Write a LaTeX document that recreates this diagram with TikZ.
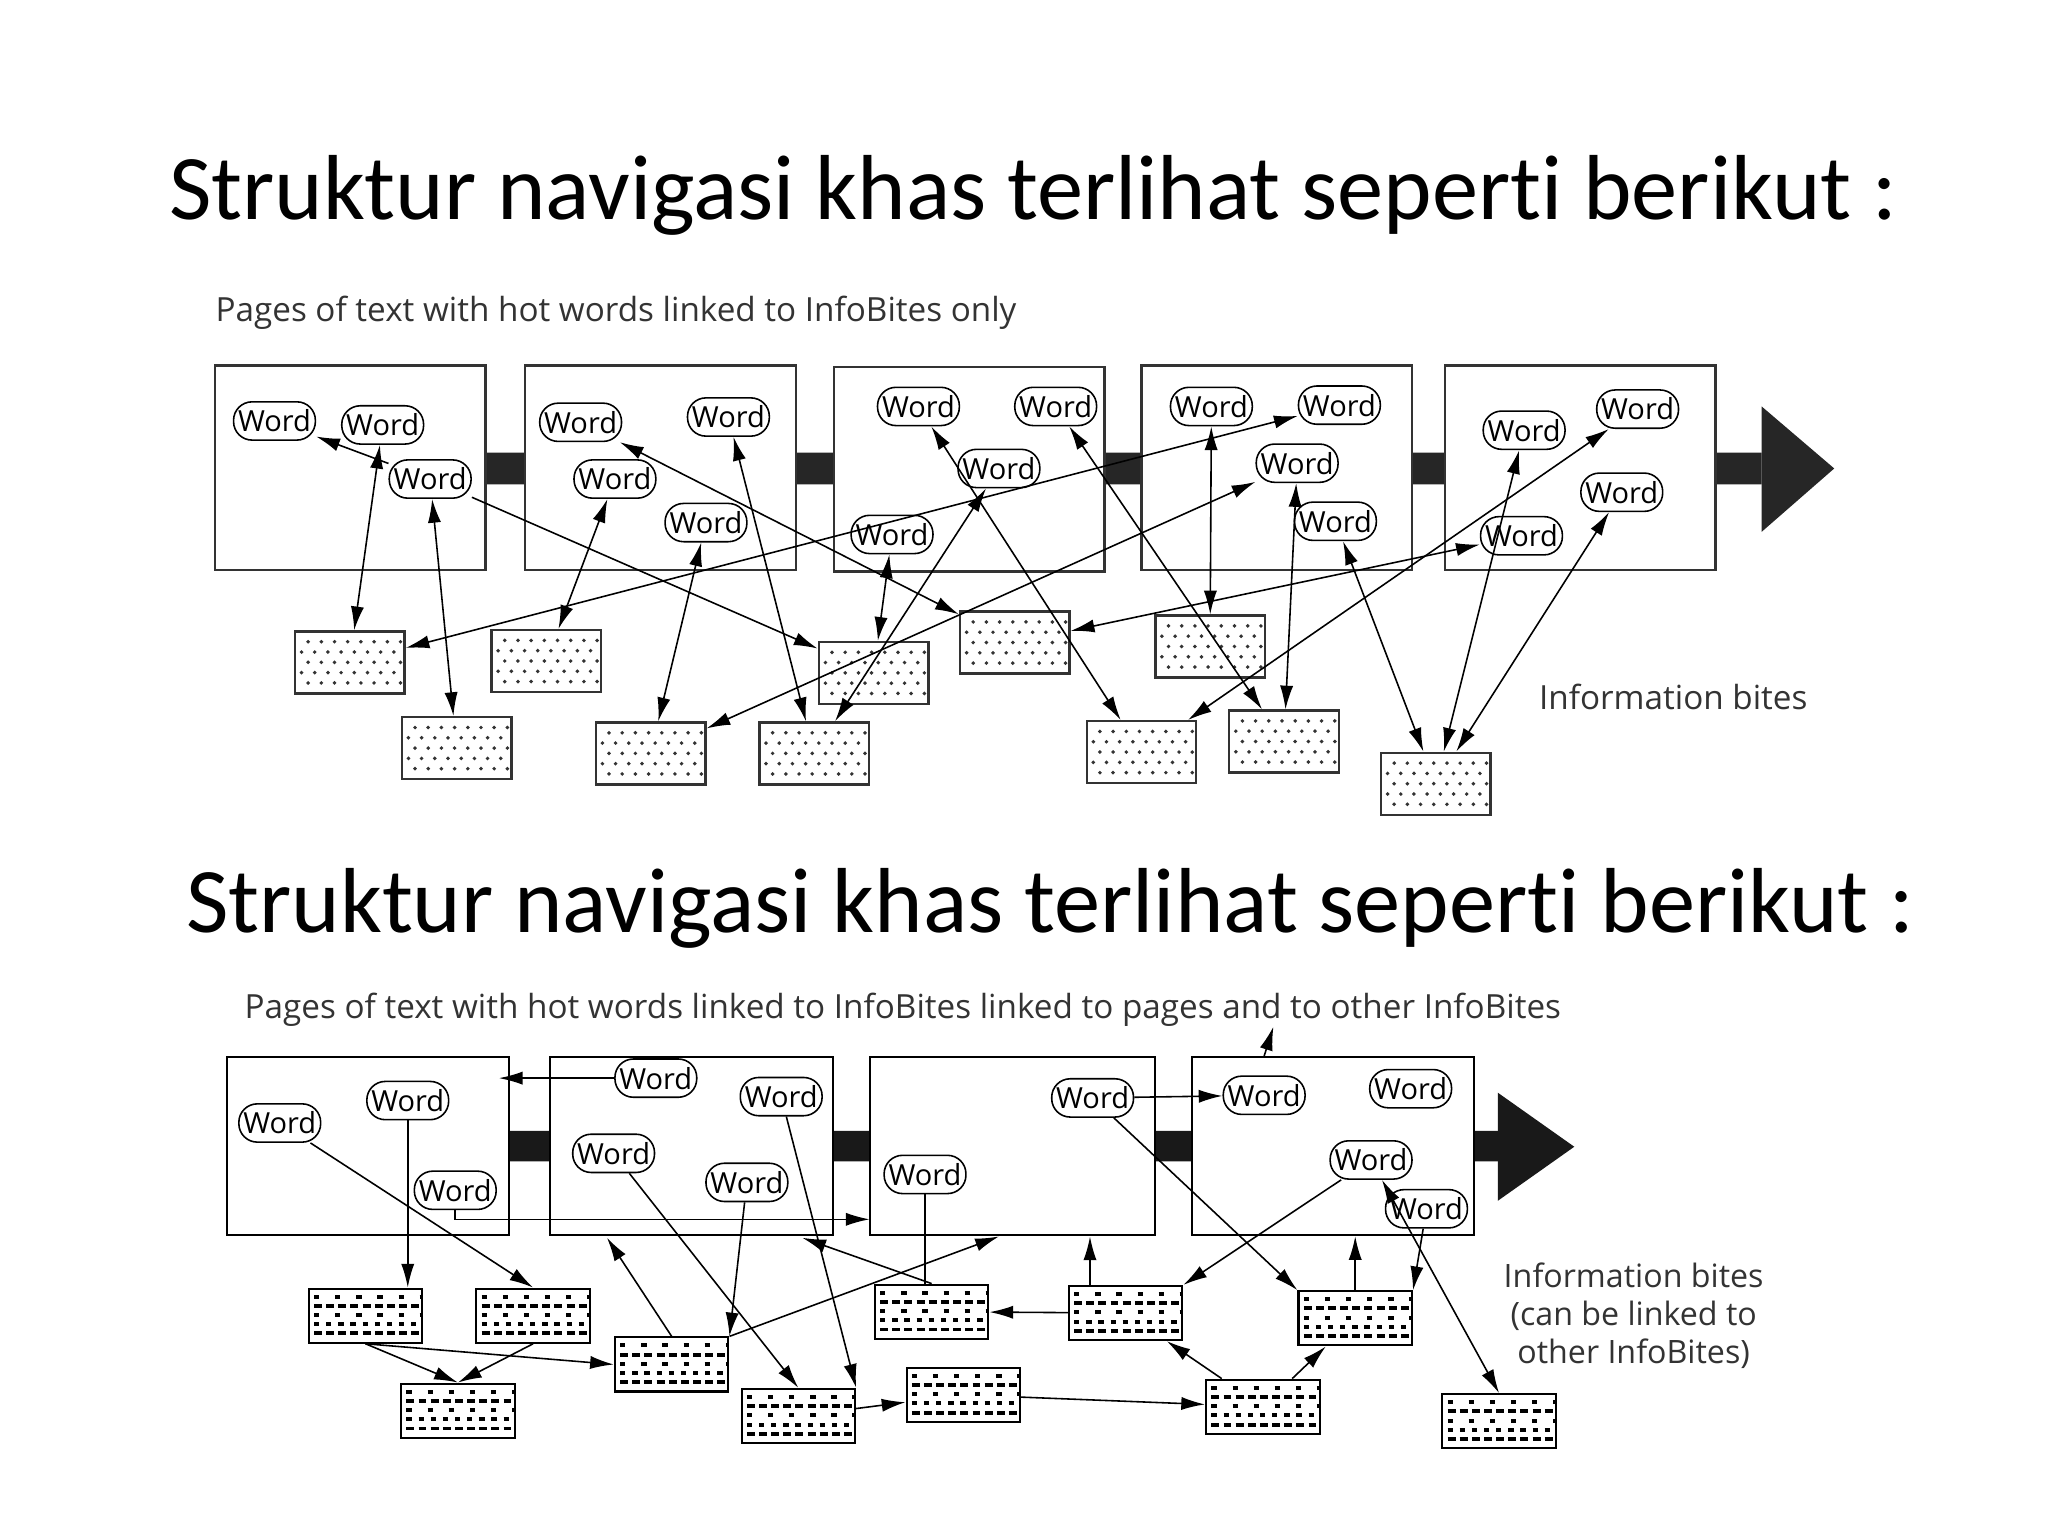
\documentclass[tikz,border=0pt]{standalone}
\usepackage{fontspec}
\setmainfont{Carlito}[Ligatures=NoCommon]
\newfontfamily\subf{Open Sans}
\usetikzlibrary{arrows.meta}
\begin{document}
\begin{tikzpicture}[x=0.5pt,y=-0.5pt,
  ar/.style={line width=0.6pt,-{Latex[length=9pt,width=5pt]}},
  dar/.style={line width=0.6pt,{Latex[length=9pt,width=5pt]}-{Latex[length=9pt,width=5pt]}},
  page/.style={draw=black!80,line width=0.9pt,inner sep=0pt,minimum width=102.5pt,minimum height=77.5pt},
  pageb/.style={draw=black,line width=0.8pt,inner sep=0pt,minimum width=107pt,minimum height=67.5pt},
  word/.style={draw,fill=white,rounded corners=7pt,line width=0.6pt,inner sep=0pt,minimum width=31pt,minimum height=14.5pt,font=\subf\fontsize{11}{11}\selectfont},
  ibt/.style={draw=black!80,line width=0.9pt,inner sep=0pt,minimum width=41.5pt,minimum height=23.5pt,
    path picture={\foreach \k in {1,...,5}{\pgfmathsetmacro\ph{mod(\k,2)*2.5}
      \draw[line width=1.5pt,line cap=round,dash pattern=on 0pt off 5pt,dash phase=\ph pt]
        ([xshift=2.5pt,yshift=-\k*3.9pt]path picture bounding box.north west) -- ++(40pt,0);}}},
  ibb/.style={draw=black,line width=0.8pt,inner sep=0pt,minimum width=43pt,minimum height=20.5pt,
    path picture={\foreach \k/\don/\doff in {1/2/6,2/3/1.6,3/2/6,4/2/2.6,5/3/1.6}{
      \draw[line width=1.5pt,dash pattern=on \don pt off \doff pt]
        ([xshift=2pt,yshift=-\k*3.5pt+0.5pt]path picture bounding box.north west) -- ++(42pt,0);}}},
  lab/.style={font=\subf\fontsize{12.6}{12.6}\selectfont,text=black!80,inner sep=0pt}
]
\useasboundingbox (0,0) rectangle (1552,1164);
% titles
\node[font=\fontsize{35}{35}\selectfont,inner sep=0pt] (t1) at (783,148) {Struktur navigasi khas terlihat seperti berikut :};
\node[font=\fontsize{35}{35}\selectfont,inner sep=0pt] (t2) at (796,688) {Struktur navigasi khas terlihat seperti berikut :};
\node[lab,anchor=west] (s1) at (163,237) {Pages of text with hot words linked to InfoBites only};
\node[lab,anchor=west] (s2) at (185,765) {Pages of text with hot words linked to InfoBites linked to pages and to other InfoBites};
\node[lab] (ib) at (1268,528) {Information bites};
\node[lab,align=center,font=\subf\fontsize{12.2}{14.5}\selectfont] (ibl) at (1238,997) {Information bites\\(can be linked to\\other InfoBites)};
% ---------- top ----------
\fill[black!85] (368,343) rectangle (398,367) (603,343) rectangle (632,367) (837,343) rectangle (865,367) (1070,343) rectangle (1095,367) (1300,343) rectangle (1335,367);
\fill[black!85] (1335,308) -- (1390,355) -- (1335,403) -- cycle;
\node[page] (P1) at (265.5,354.5) {};
\node[page] (P2) at (500.5,354.5) {};
\node[page] (P3) at (734.5,355.5) {};
\node[page] (P4) at (967.5,354.5) {};
\node[page] (P5) at (1197.5,354.5) {};
\node[ibt] (i1) at (265,502) {};
\node[ibt] (i2) at (414,501) {};
\node[ibt] (i3) at (346,567) {};
\node[ibt] (i4) at (493,571) {};
\node[ibt] (i5) at (617,571) {};
\node[ibt] (i6) at (662,510) {};
\node[ibt] (i7) at (769,487) {};
\node[ibt] (i8) at (917,490) {};
\node[ibt] (i9) at (865,570) {};
\node[ibt] (i10) at (973,562) {};
\node[ibt] (i11) at (1088,594) {};
\node[word] (w11) at (208,319) {Word};
\node[word] (w12) at (290,322) {Word};
\node[word] (w13) at (326,363) {Word};
\node[word] (w21) at (440,320) {Word};
\node[word] (w22) at (552,316) {Word};
\node[word] (w23) at (466,363) {Word};
\node[word] (w24) at (535,396) {Word};
\node[word] (w31) at (696,308) {Word};
\node[word] (w32) at (800,308) {Word};
\node[word] (w33) at (757,355) {Word};
\node[word] (w34) at (676,405) {Word};
\node[word] (w41) at (918,308) {Word};
\node[word] (w42) at (1015,307) {Word};
\node[word] (w43) at (983,351) {Word};
\node[word] (w44) at (1012,395) {Word};
\node[word] (w51) at (1155,326) {Word};
\node[word] (w52) at (1241,310) {Word};
\node[word] (w53) at (1229,373) {Word};
\node[word] (w54) at (1153,406) {Word};
\draw[ar] (w13) -- (w11);
\draw[dar] (w12) -- (i1);
\draw[dar] (w13) -- (i3);
\draw[ar] (w13) -- (i6);
\draw[dar] (w21) -- (i7);
\draw[dar] (w23) -- (i2);
\draw[dar] (w22) -- (i5);
\draw[dar] (w24) -- (i4);
\draw[dar] (i1) -- (w42);
\draw[dar] (i4) -- (w43);
\draw[dar] (w34) -- (i6);
\draw[dar] (i5) -- (w33);
\draw[dar] (w31) -- (i9);
\draw[dar] (w32) -- (i10);
\draw[dar] (i7) -- (w54);
\draw[dar] (w41) -- (i8);
\draw[dar] (w43) -- (i10);
\draw[dar] (i9) -- (w52);
\draw[dar] (w44) -- (i11);
\draw[dar] (w51) -- (i11);
\draw[dar] (w53) -- (i11);
% ---------- bottom ----------
\fill[black!90] (386,857) rectangle (417,880) (631,857) rectangle (659,880) (875,857) rectangle (903,880) (1117,857) rectangle (1135,880);
\fill[black!90] (1135,828) -- (1193,869) -- (1135,910) -- cycle;
\node[pageb] (Q1) at (279,868.5) {};
\node[pageb] (Q2) at (524,868.5) {};
\node[pageb,minimum width=108pt] (Q3) at (767,868.5) {};
\node[pageb] (Q4) at (1010,868.5) {};
\node[ibb] (j1) at (277,997) {};
\node[ibb] (j2) at (404,997) {};
\node[ibb] (j3) at (347,1069) {};
\node[ibb] (j4) at (509,1034) {};
\node[ibb] (j5) at (605,1073) {};
\node[ibb] (j6) at (730,1057) {};
\node[ibb] (j7) at (706,994) {};
\node[ibb] (j8) at (853,995) {};
\node[ibb] (j9) at (1027,999) {};
\node[ibb] (j10) at (957,1066) {};
\node[ibb] (j11) at (1136,1077) {};
\node[word] (a1) at (212,851) {Word};
\node[word] (a2) at (309,834) {Word};
\node[word] (a3) at (345,902) {Word};
\node[word] (b1) at (497,817) {Word};
\node[word] (b2) at (592,831) {Word};
\node[word] (b3) at (465,874) {Word};
\node[word] (b4) at (566,896) {Word};
\node[word] (c1) at (701,890) {Word};
\node[word] (c2) at (828,832) {Word};
\node[word] (d1) at (958,830) {Word};
\node[word] (d2) at (1069,825) {Word};
\node[word] (d3) at (1039,879) {Word};
\node[word] (d4) at (1081,916) {Word};
\coordinate (q1in) at (378,817);
\coordinate (q3in) at (659,924);
\coordinate (up) at (965,778);
\draw[ar] (b1) -- (q1in);
\draw[ar] (a3.south) |- (q3in);
\draw[ar] (a2.south) -- (a2.south |- j1.north);
\draw[ar] (a1) -- (j2.north);
\draw[ar] (j1.south) -- (j3.north);
\draw[ar] (j2.south) -- (j3.north);
\draw[ar] (j1.south) -- (j4.west);
\draw[ar] (j4.north) -- (460,938);
\draw[ar] (b4) -- (j4.north east);
\draw[ar] (b3) -- (j5.north);
\draw[ar] (b2) -- (j5.north east);
\draw[ar] (j4.north east) -- (757,937);
\draw[ar] (j7.north) -- (608,938);
\draw[line width=0.6pt] (c1) -- (c1 |- j7.north);
\draw[ar] (j8) -- (j7);
\draw[ar] (j8.north -| 826,0) -- (826,937);
\draw[ar] (c2) -- (d1);
\draw[ar] (d1.north |- Q4.north) -- (up);
\draw[ar] (c2) -- (j9.north west);
\draw[ar] (d3) -- (j8.north east);
\draw[ar] (j9.north) -- (j9.north |- Q4.south);
\draw[ar] (d4) -- (j9.north east);
\draw[dar] (d3) -- (j11.north);
\draw[ar] (j5) -- (j6);
\draw[ar] (j6) -- (j10);
\draw[ar] (j10) -- (j8);
\draw[ar] (j10) -- (j9);
\end{tikzpicture}
\end{document}
